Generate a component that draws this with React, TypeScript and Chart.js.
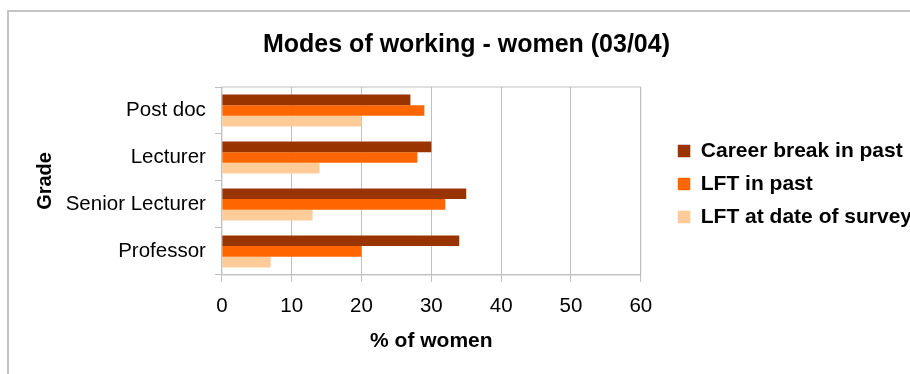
import React, { useEffect, useRef } from 'react';
import { Chart, registerables } from 'chart.js';

Chart.register(...registerables);

const titleText = 'Modes of working - women (03/04)';
const grades = ['Post doc', 'Lecturer', 'Senior Lecturer', 'Professor'];
const seriesNames = ['Career break in past', 'LFT in past', 'LFT at date of survey'];
const careerBreakInPast = [27, 30, 35, 34];
const lftInPast = [29, 28, 32, 20];
const lftAtDateOfSurvey = [20, 14, 13, 7];
const xMin = 0;
const xMax = 60;
const xStep = 10;
const xAxisTitle = '% of women';
const yAxisTitle = 'Grade';

const FONT = "'Liberation Sans', Arial, sans-serif";
const GRID = '#c0c0c0';

const plotFrame = {
  id: 'plotFrame',
  beforeDatasetsDraw(chart: any) {
    const { ctx, chartArea } = chart;
    ctx.save();
    ctx.strokeStyle = GRID;
    ctx.lineWidth = 1;
    ctx.strokeRect(chartArea.left, chartArea.top, chartArea.right - chartArea.left, chartArea.bottom - chartArea.top);
    ctx.restore();
  },
};

const legendGap = {
  id: 'legendGap',
  afterLayout(chart: any) {
    const lg = chart.legend;
    if (lg) {
      lg.left += 25;
      lg.right += 25;
    }
  },
};

export default function App() {
  const ref = useRef<HTMLCanvasElement | null>(null);
  useEffect(() => {
    if (!ref.current) return;
    const chart = new Chart(ref.current, {
      type: 'bar',
      data: {
        labels: grades,
        datasets: [
          { label: seriesNames[0], data: careerBreakInPast, backgroundColor: '#993300', borderWidth: 0 },
          { label: seriesNames[1], data: lftInPast, backgroundColor: '#FF6600', borderWidth: 0 },
          { label: seriesNames[2], data: lftAtDateOfSurvey, backgroundColor: '#FFCC99', borderWidth: 0 },
        ],
      },
      options: {
        indexAxis: 'y',
        responsive: false,
        animation: false,
        layout: { padding: { left: 36, right: 43, top: 0, bottom: 6 } },
        datasets: { bar: { categoryPercentage: 0.68, barPercentage: 1 } },
        scales: {
          x: {
            type: 'linear',
            min: xMin,
            max: xMax,
            ticks: { stepSize: xStep, color: '#000', padding: 12, font: { family: FONT, size: 20.5 } },
            grid: { color: GRID, lineWidth: 1, tickLength: 7, tickColor: GRID },
            border: { display: true, color: GRID },
            title: {
              display: true,
              text: xAxisTitle,
              color: '#000',
              font: { family: FONT, size: 21, weight: 'bold', lineHeight: 1 },
              padding: { top: 0, bottom: 16.5 },
            },
          },
          y: {
            ticks: { color: '#000', padding: 9, font: { family: FONT, size: 20.5 } },
            grid: { drawOnChartArea: false, drawTicks: true, tickLength: 7, color: GRID, offset: true },
            border: { display: true, color: GRID },
            title: {
              display: true,
              text: yAxisTitle,
              color: '#000',
              font: { family: FONT, size: 20, weight: 'bold', lineHeight: 0.9 },
              padding: { top: 0, bottom: 2.7 },
            },
          },
        },
        plugins: {
          title: {
            display: true,
            text: titleText,
            color: '#000',
            font: { family: FONT, size: 25, weight: 'bold' },
            padding: { top: 29.8, bottom: 27.2 },
          },
          legend: {
            position: 'right',
            align: 'center',
            maxWidth: 320,
            labels: {
              boxWidth: 12.5,
              boxHeight: 12.5,
              padding: 12,
              color: '#000',
              font: { family: FONT, size: 21, weight: 'bold' },
            },
          },
          tooltip: { enabled: false },
        },
      },
      plugins: [plotFrame, legendGap],
    } as any);
    return () => chart.destroy();
  }, []);

  return (
    <div style={{ position: 'fixed', left: 0, top: 0, width: 910, height: 374, overflow: 'hidden', background: '#fff' }}>
      <div
        style={{
          position: 'absolute',
          left: 7,
          top: 10,
          width: 1000,
          height: 500,
          borderTop: '2px solid #c4c4c4',
          borderLeft: '2px solid #c4c4c4',
        }}
      />
      <canvas ref={ref} width={940} height={374} style={{ position: 'absolute', left: 0, top: 0, width: 940, height: 374 }} />
    </div>
  );
}
